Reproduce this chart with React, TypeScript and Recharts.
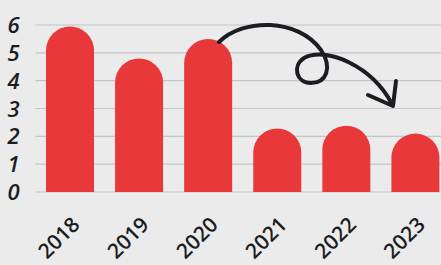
import React from "react";
import { BarChart, Bar, XAxis, YAxis, CartesianGrid } from "recharts";

const years = ["2018", "2019", "2020", "2021", "2022", "2023"];
const values = [5.95, 4.8, 5.5, 2.28, 2.38, 2.1];
const yTicks = [0, 1, 2, 3, 4, 5, 6];

const data = years.map((year, i) => ({ year, value: values[i] }));

const RED = "#E8383A";
const INK = "#1b1d22";
const FONT = "'Open Sans', 'Noto Sans', sans-serif";

function YearTick(props: any) {
  const { x, y, payload } = props;
  const ax = x + 11;
  const ay = y + 26;
  return (
    <text
      x={ax}
      y={ay}
      transform={`rotate(-45, ${ax}, ${ay})`}
      textAnchor="end"
      fill={INK}
      fontFamily={FONT}
      fontWeight={600}
      fontSize={21}
    >
      {payload.value}
    </text>
  );
}

function ValueTick(props: any) {
  const { x, y, payload } = props;
  return (
    <text
      x={x}
      y={y}
      dy={8}
      textAnchor="end"
      fill={INK}
      fontFamily={FONT}
      fontStyle="italic"
      fontWeight={600}
      fontSize={22}
    >
      {payload.value}
    </text>
  );
}

export default function App() {
  return (
    <div
      style={{
        position: "absolute",
        left: 0,
        top: 0,
        width: 441,
        height: 265,
        overflow: "hidden",
        background: "#ebebeb",
      }}
    >
      <BarChart
        width={450}
        height={265}
        data={data}
        margin={{ top: 25, right: 0, bottom: 0, left: 0 }}
        barCategoryGap={10.5}
      >
        <CartesianGrid vertical={false} stroke="#c4c4c4" strokeWidth={1.2} />
        <YAxis
          width={35.5}
          domain={[0, 6]}
          ticks={yTicks}
          interval={0}
          axisLine={false}
          tickLine={false}
          tickMargin={10}
          tick={<ValueTick />}
        />
        <XAxis
          dataKey="year"
          height={73}
          axisLine={false}
          tickLine={false}
          interval={0}
          tick={<YearTick />}
        />
        <Bar
          dataKey="value"
          fill={RED}
          radius={[24, 24, 0, 0]}
          isAnimationActive={false}
        />
      </BarChart>
      <svg
        width={441}
        height={265}
        style={{ position: "absolute", left: 0, top: 0, pointerEvents: "none" }}
      >
        <path
          d="M219,42 C243,18 298,18 321,50 C333,68 326,83 311,83 C296,83 292,66 304,58 C326,46 372,66 392,104"
          fill="none"
          stroke={INK}
          strokeWidth={4}
          strokeLinecap="round"
          strokeLinejoin="round"
        />
        <path
          d="M368,95 L393,106 L396,81"
          fill="none"
          stroke={INK}
          strokeWidth={4}
          strokeLinecap="round"
          strokeLinejoin="round"
        />
      </svg>
    </div>
  );
}
